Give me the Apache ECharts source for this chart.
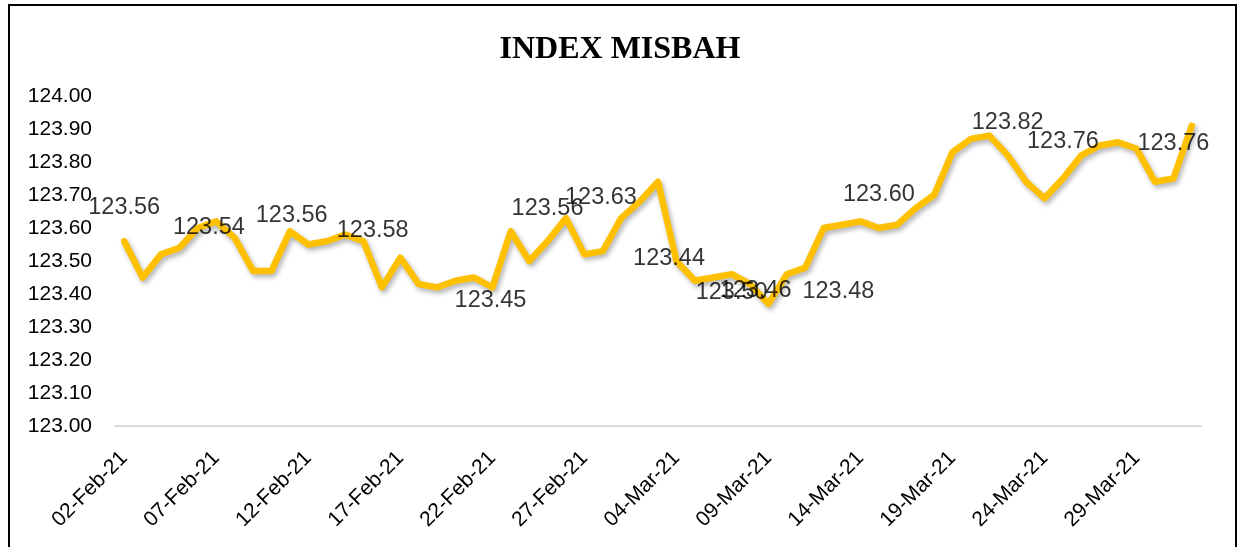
<!DOCTYPE html>
<html>
<head>
<meta charset="utf-8">
<title>INDEX MISBAH</title>
<script src="https://cdn.jsdelivr.net/npm/echarts@6/dist/echarts.min.js"></script>
<style>
html, body { margin: 0; padding: 0; background: #fff; }
#main { width: 1240px; height: 547px; }
</style>
</head>
<body>
<div id="main"></div>
<script>
// tanggal (sumbu x)
var dates = ['02-Feb-21', '03-Feb-21', '04-Feb-21', '05-Feb-21', '06-Feb-21', '07-Feb-21', '08-Feb-21',
	'09-Feb-21', '10-Feb-21', '11-Feb-21', '12-Feb-21', '13-Feb-21', '14-Feb-21', '15-Feb-21',
	'16-Feb-21', '17-Feb-21', '18-Feb-21', '19-Feb-21', '20-Feb-21', '21-Feb-21', '22-Feb-21',
	'23-Feb-21', '24-Feb-21', '25-Feb-21', '26-Feb-21', '27-Feb-21', '28-Feb-21',
	'01-Mar-21', '02-Mar-21', '03-Mar-21', '04-Mar-21', '05-Mar-21', '06-Mar-21', '07-Mar-21',
	'08-Mar-21', '09-Mar-21', '10-Mar-21', '11-Mar-21', '12-Mar-21', '13-Mar-21', '14-Mar-21',
	'15-Mar-21', '16-Mar-21', '17-Mar-21', '18-Mar-21', '19-Mar-21', '20-Mar-21', '21-Mar-21',
	'22-Mar-21', '23-Mar-21', '24-Mar-21', '25-Mar-21', '26-Mar-21', '27-Mar-21', '28-Mar-21',
	'29-Mar-21', '30-Mar-21', '31-Mar-21', '01-Apr-21'];

// nilai index
var indexValues = [123.56, 123.45, 123.52, 123.54, 123.60, 123.62, 123.57,
	123.47, 123.47, 123.59, 123.55, 123.56, 123.58, 123.56,
	123.42, 123.51, 123.43, 123.42, 123.44, 123.45, 123.42,
	123.59, 123.50, 123.56, 123.63, 123.52, 123.53,
	123.63, 123.68, 123.74, 123.50, 123.44, 123.45, 123.46,
	123.43, 123.37, 123.46, 123.48, 123.60, 123.61, 123.62,
	123.60, 123.61, 123.66, 123.70, 123.83, 123.87, 123.88,
	123.82, 123.74, 123.69, 123.75, 123.82, 123.85, 123.86,
	123.84, 123.74, 123.75, 123.91];

// label data (teks dan titik jangkar pada skala sumbu)
var labelTexts = ['123.56', '123.54', '123.56', '123.58', '123.45', '123.56', '123.63', '123.44',
	'123.50', '123.46', '123.48', '123.60', '123.82', '123.76', '123.76'];
var labelAt = [0, 4.6, 9.1, 13.5, 19.9, 23.0, 25.9, 29.6, 33.0, 34.3, 38.8, 41.0, 48.0, 51.0, 57.0];
var labelLevel = [123.661, 123.600, 123.639, 123.591, 123.379, 123.658, 123.691, 123.509,
	123.406, 123.412, 123.409, 123.700, 123.921, 123.861, 123.855];

var yTicks = { min: 123, max: 124, step: 0.1 };

var labelData = [];
for (var i = 0; i < labelTexts.length; i++) {
	labelData.push({ value: [labelAt[i], labelLevel[i]], name: labelTexts[i] });
}

var myChart = echarts.init(document.getElementById('main'));

var option = {
	animation : false,
	backgroundColor : '#fff',
	title : {
		text : 'INDEX MISBAH',
		left : 'center',
		top : 29,
		textStyle : {
			fontFamily : 'Liberation Serif',
			fontSize : 32,
			fontWeight : 'bold',
			color : '#000'
		}
	},
	graphic : [ {
		type : 'rect',
		shape : { x : 9, y : 5, width : 1227, height : 600 },
		style : { fill : 'none', stroke : '#000', lineWidth : 2 },
		silent : true
	} ],
	grid : {
		left : 115,
		right : 39,
		top : 96,
		bottom : 121,
		containLabel : false,
		outerBoundsMode : 'none'
	},
	xAxis : [ {
		type : 'category',
		data : dates,
		boundaryGap : true,
		axisLine : { show : true, lineStyle : { color : '#d9d9d9', width : 2 } },
		axisTick : { show : false },
		axisLabel : {
			interval : 4,
			rotate : 45,
			margin : 29,
			color : '#000',
			fontFamily : 'Liberation Sans',
			fontSize : 21
		},
		splitLine : { show : false }
	}, {
		// sumbu bantu untuk posisi label
		type : 'value',
		show : false,
		min : -0.5,
		max : dates.length - 0.5
	} ],
	yAxis : {
		type : 'value',
		min : yTicks.min,
		max : yTicks.max,
		interval : yTicks.step,
		axisLine : { show : false },
		axisTick : { show : false },
		splitLine : { show : false },
		axisLabel : {
			margin : 23,
			color : '#000',
			fontFamily : 'Liberation Sans',
			fontSize : 21,
			formatter : function(v) { return v.toFixed(2); }
		}
	},
	series : [ {
		name : 'INDEX MISBAH',
		type : 'line',
		data : indexValues,
		symbol : 'none',
		lineStyle : {
			color : '#FFC000',
			width : 6.5,
			join : 'round',
			cap : 'round',
			shadowColor : 'rgba(0,0,0,0.3)',
			shadowBlur : 5,
			shadowOffsetX : 2,
			shadowOffsetY : 3
		},
		z : 2
	}, {
		name : 'label',
		type : 'scatter',
		xAxisIndex : 1,
		data : labelData,
		symbolSize : 1,
		itemStyle : { color : 'rgba(0,0,0,0)' },
		label : {
			show : true,
			position : 'inside',
			formatter : function(p) { return p.name; },
			color : '#000',
			textBorderWidth : 0,
			fontFamily : 'Liberation Sans',
			fontSize : 23.5
		},
		silent : true,
		z : 5
	} ]
};

myChart.setOption(option);
</script>
</body>
</html>
